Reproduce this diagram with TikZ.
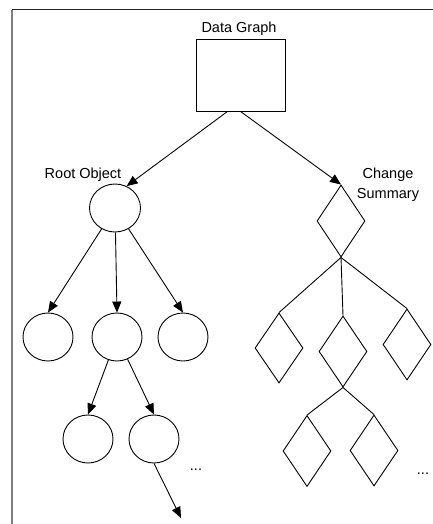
\documentclass[tikz,border=0pt]{standalone}
\usepackage{fontspec}
\setmainfont{Liberation Sans}
\usetikzlibrary{shapes.geometric,arrows.meta}
\begin{document}
\begin{tikzpicture}[x=1pt,y=-1pt,
  every node/.style={font=\fontsize{14.5}{20}\selectfont},
  obj/.style={draw,ellipse,minimum width=50pt,minimum height=48pt,inner sep=0pt,line width=0.9pt},
  chg/.style={draw,diamond,minimum width=48pt,minimum height=71pt,inner sep=0pt,line width=0.9pt},
  boxnode/.style={draw,rectangle,minimum width=89pt,minimum height=72pt,inner sep=0pt,line width=0.9pt},
  conn/.style={line width=0.9pt},
  arr/.style={conn,-{Triangle[length=11pt,width=9pt]}},
  lbl/.style={inner sep=0pt,anchor=base,align=center}]
\useasboundingbox (0,0) rectangle (433,524);
% frame
\coordinate (fTR) at (433,10);
\coordinate (fTL) at (12,10);
\coordinate (fBL) at (12,524);
\draw[line width=1pt,black!85] (fTR) -- (fTL);
\draw[line width=2pt,black!50] (fTL) -- (fBL);
% labels
\node[lbl] (tDG) at (239,33) {Data Graph};
\node[lbl] (tRO) at (83,178) {Root Object};
\node[lbl] (tCS1) at (388,178) {Change};
\node[lbl] (tCS2) at (388,198) {Summary};
\node[lbl] (dotsL) at (196,470) {...};
\node[lbl] (dotsR) at (423,474) {...};
% data graph box
\node[boxnode] (dg) at (240.5,75) {};
% left tree
\node[obj,minimum width=51pt] (root) at (115,208) {};
\node[obj] (c1) at (48,337) {};
\node[obj] (c2) at (117,337) {};
\node[obj] (c3) at (183,337) {};
\node[obj] (g1) at (88,439) {};
\node[obj] (g2) at (154,439) {};
\coordinate (gend) at (181,518);
% right tree
\node[chg,minimum height=72pt] (cs) at (341,221) {};
\node[chg,minimum height=70pt] (d1) at (279,348) {};
\node[chg] (d2) at (343,351.5) {};
\node[chg] (d3) at (407,344.5) {};
\node[chg] (e1) at (307,451) {};
\node[chg] (e2) at (374,450.5) {};
% connectors
\draw[arr] ([xshift=-13pt]dg.south) -- (root.62);
\draw[arr] (dg.south) -- (cs.north);
\draw[arr] (root) -- (c1.north);
\draw[arr] (root) -- (c2.north);
\draw[arr] (root) -- (c3.north);
\draw[arr] (c2) -- (g1.north);
\draw[arr] (c2) -- (g2.north);
\draw[arr] (g2.south) -- (gend);
\draw[conn] (cs.south) -- (d1.north);
\draw[conn] (cs.south) -- (d2.north);
\draw[conn] (cs.south) -- (d3.north);
\draw[conn] (d2.south) -- (e1.north);
\draw[conn] (d2.south) -- (e2.north);
\end{tikzpicture}
\end{document}
